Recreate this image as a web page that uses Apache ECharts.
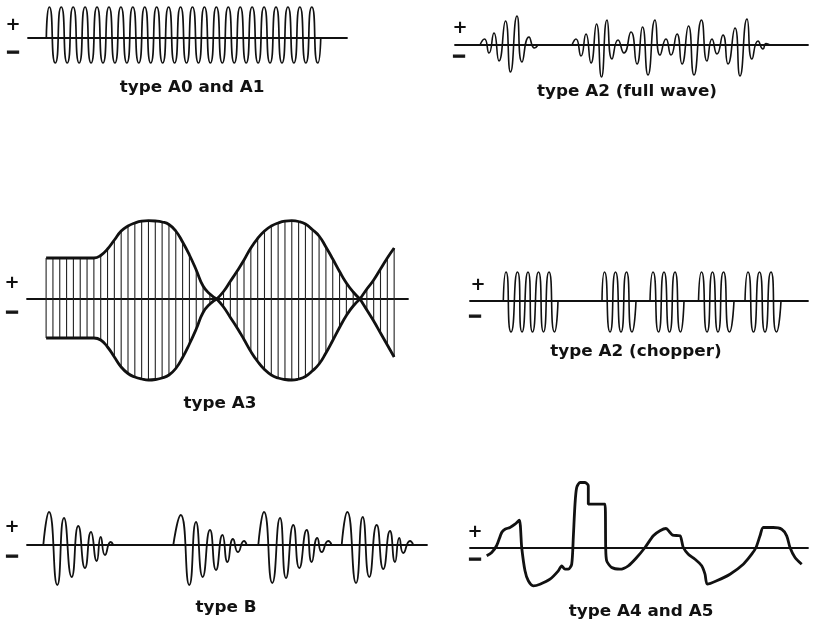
<!DOCTYPE html>
<html>
<head>
<meta charset="utf-8">
<title>Emission types</title>
<script src="https://cdn.jsdelivr.net/npm/echarts@6/dist/echarts.min.js"></script>
<style>
  html, body { margin: 0; padding: 0; background: #fff; }
  #chart { width: 814px; height: 625px; }
</style>
</head>
<body>
<div id="chart"></div>
<script>
// ---- Waveform data (time units along each trace, amplitude above/below the zero line) ----

// A0 / A1: steady carrier, one value per half cycle (peak, trough, ...)
const a0Values = [
  31,-25, 31,-25, 31,-25, 31,-25, 31,-25, 31,-25, 31,-25, 31,-25,
  31,-25, 31,-25, 31,-25, 31,-25, 31,-25, 31,-25, 31,-25, 31,-25,
  31,-25, 31,-25, 31,-25, 31,-25, 31,-25, 31,-25, 31,-25
];

// A2 full wave: two modulated bursts, [time, amplitude]
const a2FullBurst1 = [[25,0],[29.5,6],[34,-8],[39,12],[44,-16],[50.5,24],[55.5,-27],[62,29],[67,-17],[74,8],[79.5,-3],[83,0]];
const a2FullBurst2 = [[117,0],[121,6],[126,-11],[131,11],[136,-18],[141.5,21],[146.5,-32],[152,25],[157,-14],[163,5],[169,-8],[176,13],[182,-19],[187.5,18],[193,-30],[200,25],[205,-10],[211,6],[216,-10],[222,11],[227,-19],[233.5,19],[239,-30],[246.5,25],[252,-16],[257,6],[262,-9],[268,10],[273,-19],[280,17],[285,-31],[292,26],[297,-14],[303,4],[308,-4],[311,1.5],[315,0]];

// A3: envelope of the modulated carrier, one sample per carrier cycle
const a3Upper = [41,41,41,41,41,41,41,41,43.5,50,59,68,73,76,77.8,78.3,78,77,74.5,68,57,44,29,13,5,0,
                 7.5,17.7,28,39,51,60.5,68,73,76,77.8,78.3,77.5,75,69.5,63,52,40,27.5,16,7,0,
                 10,19,30,41,51];
const a3Lower = [-39,-39,-39,-39,-39,-39,-39,-39,-41,-48,-58,-68,-74.5,-78,-80,-81,-80.5,-79,-76,-69.5,-58.5,-45,-30,-13.5,-5,0,
                 -8,-18.5,-29,-40.5,-52.5,-62.5,-70.5,-76,-79,-80.5,-81,-80,-77.5,-72,-65,-54,-41.5,-28.5,-16.5,-7,0,
                 -11,-22,-34,-46,-58];
const a3Lobes = [[0,25],[25,46],[46,51]];

// A2 chopper: keyed bursts of constant amplitude
const chopperBurst1 = [[33.3,0],[36,29],[41,-31],[47.5,29],[52,-31],[58,29],[62.5,-31],[68.5,29],[73.5,-31],[79,29],[84.5,-31],[88,0]];
const chopperBurst2 = [[132,0],[134.5,29],[140,-31],[145.5,29],[151,-31],[156.5,29],[162,-31],[166,0]];
const chopperBurst3 = [[180,0],[183,29],[188.5,-31],[194,29],[199.5,-31],[205,29],[210.5,-31],[214,0]];
const chopperBurst4 = [[228.5,0],[231.5,29],[237,-31],[242.5,29],[248,-31],[253.5,29],[259.5,-31],[264,0]];
const chopperBurst5 = [[275,0],[278,29],[283.5,-31],[289.5,29],[295,-31],[301,29],[306.5,-31],[311,0]];

// B: damped wave trains
const typeBBurst1 = [[16.3,0],[22,33],[30.3,-40],[37,27],[44.7,-32],[51.3,19],[58,-23],[64,13],[69.7,-16],[73.7,8],[78,-10],[83.7,3],[86.3,0]];
const typeBBurst2 = [[146.3,0],[153.7,30],[162.3,-40],[169,23],[175.7,-32],[183,15],[189,-25],[195.5,10],[200.5,-17],[206,6],[211,-7],[217,4],[219.7,0]];
const typeBBurst3 = [[231.3,0],[237,33],[245.3,-38],[253,27],[259,-33],[266.3,20],[272.3,-23],[279.7,15],[284.7,-17],[290.3,7],[294.7,-7],[301.3,4],[304.7,0]];
const typeBBurst4 = [[314.7,0],[320.3,33],[329,-38],[335.7,28],[342.3,-32],[349.7,20],[356.3,-24],[363,14],[368,-17],[372.3,7],[376.3,-8],[383,4],[386.3,0]];

// A4 / A5: facsimile / television type signal
const a4Trace = [[16.7,-8.3],[21.7,-5],[26.7,2],[31.7,15],[35,18.3],[40,20],[45,23.3],[49.3,27.3],[51.7,0],[55,-23.3],[58.3,-33.3],[63.3,-38.3],[70,-36.7],[80,-31.7],[88.3,-23.3],[91.7,-18.3],[95,-21.7],[98.3,-21.7],[101.7,-16.7],[103.3,10],[105,43.3],[106.7,60],[110,65],[115,65],[118.3,61.7],[118.3,43.3],[123.3,43.3],[135,43.3],[135.7,0],[136.7,-13.3],[141.7,-20],[150,-21.7],[158.3,-18.3],[166.7,-10],[175,0],[183.3,11.7],[190,16.7],[196,19],[200,15],[202.7,12.3],[210,11.7],[211.7,6.7],[213.3,0],[218.3,-6.7],[225,-11.7],[231.7,-18.3],[235,-26.7],[237.3,-36.7],[246.7,-33.3],[260,-26.7],[273.3,-16.7],[281.7,-6.7],[286,0],[290,11.7],[293.3,20],[303.3,20],[311.7,18.3],[316.7,11.7],[320,0],[325,-10],[331.7,-16.7]];

// Captions
const panelTitles = ['type A0 and A1', 'type A2 (full wave)', 'type A3', 'type A2 (chopper)', 'type B', 'type A4 and A5'];

// ---- Layout ----
const INK = '#111111';
const FONT = '"DejaVu Sans", sans-serif';

// left/right of zero line, zero-line y, room above/below, x range, caption and sign positions
const panels = [
  { left: 28,  right: 347, zeroY: 38,    up: 35, down: 30, xMin: -2.57, xMax: 50.9,  title: [192, 88],  plus: [13, 25],  minus: [13, 53] },
  { left: 455, right: 808, zeroY: 45,    up: 36, down: 36, xMin: 0,     xMax: 353,   title: [627, 92],  plus: [460, 28], minus: [459, 57] },
  { left: 27,  right: 408, zeroY: 299,   up: 86, down: 86, xMin: -2.8,  xMax: 53.03, title: [220, 404], plus: [12, 283], minus: [12, 313] },
  { left: 470, right: 808, zeroY: 301,   up: 35, down: 35, xMin: 0,     xMax: 338,   title: [636, 352], plus: [478, 285], minus: [475, 317] },
  { left: 27,  right: 427, zeroY: 545,   up: 45, down: 45, xMin: 0,     xMax: 400,   title: [226, 608], plus: [12, 527], minus: [12, 557] },
  { left: 470, right: 808, zeroY: 547.5, up: 70, down: 45, xMin: 0,     xMax: 338,   title: [641, 612], plus: [475, 532], minus: [475, 560] }
];

const grid = [], xAxis = [], yAxis = [], series = [], graphic = [];
panels.forEach((p, k) => {
  grid.push({ left: p.left, width: p.right - p.left, top: p.zeroY - p.up, height: p.up + p.down });
  xAxis.push({
    type: 'value', gridIndex: k, min: p.xMin, max: p.xMax,
    axisLine: { show: true, onZero: true, lineStyle: { color: INK, width: 1.8 } },
    axisTick: { show: false }, axisLabel: { show: false }, splitLine: { show: false }
  });
  yAxis.push({ type: 'value', gridIndex: k, min: -p.down, max: p.up, show: false });
  graphic.push({
    type: 'text', x: p.title[0], y: p.title[1], scaleX: 1.12,
    style: { text: panelTitles[k], font: 'bold 15px ' + FONT, fill: INK, align: 'center', verticalAlign: 'middle' }
  });
  graphic.push({
    type: 'text', x: p.plus[0], y: p.plus[1],
    style: { text: '+', font: 'bold 18px ' + FONT, fill: INK, align: 'center', verticalAlign: 'middle' }
  });
  graphic.push({
    type: 'text', x: p.minus[0], y: p.minus[1],
    style: { text: '\u2212', font: 'bold 18px ' + FONT, fill: INK, stroke: INK, lineWidth: 1, align: 'center', verticalAlign: 'middle' }
  });
});

function trace(k, data, width, smooth) {
  series.push({
    type: 'line', xAxisIndex: k, yAxisIndex: k, data: data,
    smooth: smooth, symbol: 'none', silent: true,
    lineStyle: { color: INK, width: width }
  });
}

// A0 / A1: half cycles on a unit time step, starting and ending on the zero line
const a0Data = [[0.5, 0]].concat(a0Values.map((v, i) => [i + 1, v]), [[a0Values.length + 0.5, 0]]);
trace(0, a0Data, 1.7, 0.8);

// A2 full wave
trace(1, a2FullBurst1, 1.6, 0.6);
trace(1, a2FullBurst2, 1.6, 0.6);

// A3: hatching for the carrier, then the envelope lobes on top
series.push({
  type: 'custom', xAxisIndex: 2, yAxisIndex: 2, silent: true,
  data: a3Upper.map((u, i) => [i, u, a3Lower[i]]),
  encode: { x: 0, y: [1, 2] },
  renderItem: function (params, api) {
    const t = api.value(0);
    const a = api.coord([t, api.value(1)]);
    const b = api.coord([t, api.value(2)]);
    return { type: 'line', shape: { x1: a[0], y1: a[1], x2: b[0], y2: b[1] }, style: { stroke: '#222', lineWidth: 1.1 } };
  }
});
a3Lobes.forEach(([s, e]) => {
  const up = [], lo = [];
  for (let i = s; i <= e; i++) { up.push([i, a3Upper[i]]); lo.push([i, a3Lower[i]]); }
  trace(2, up, 2.8, 0.5);
  trace(2, lo, 2.8, 0.5);
});

// A2 chopper
[chopperBurst1, chopperBurst2, chopperBurst3, chopperBurst4, chopperBurst5].forEach(b => trace(3, b, 1.6, 0.8));

// B
[typeBBurst1, typeBBurst2, typeBBurst3, typeBBurst4].forEach(b => trace(4, b, 1.8, 0.6));

// A4 / A5
trace(5, a4Trace, 2.8, 0.25);

const chart = echarts.init(document.getElementById('chart'), null, { renderer: 'canvas' });
chart.setOption({
  animation: false,
  backgroundColor: '#ffffff',
  grid: grid, xAxis: xAxis, yAxis: yAxis,
  series: series,
  graphic: graphic
});
</script>
</body>
</html>
